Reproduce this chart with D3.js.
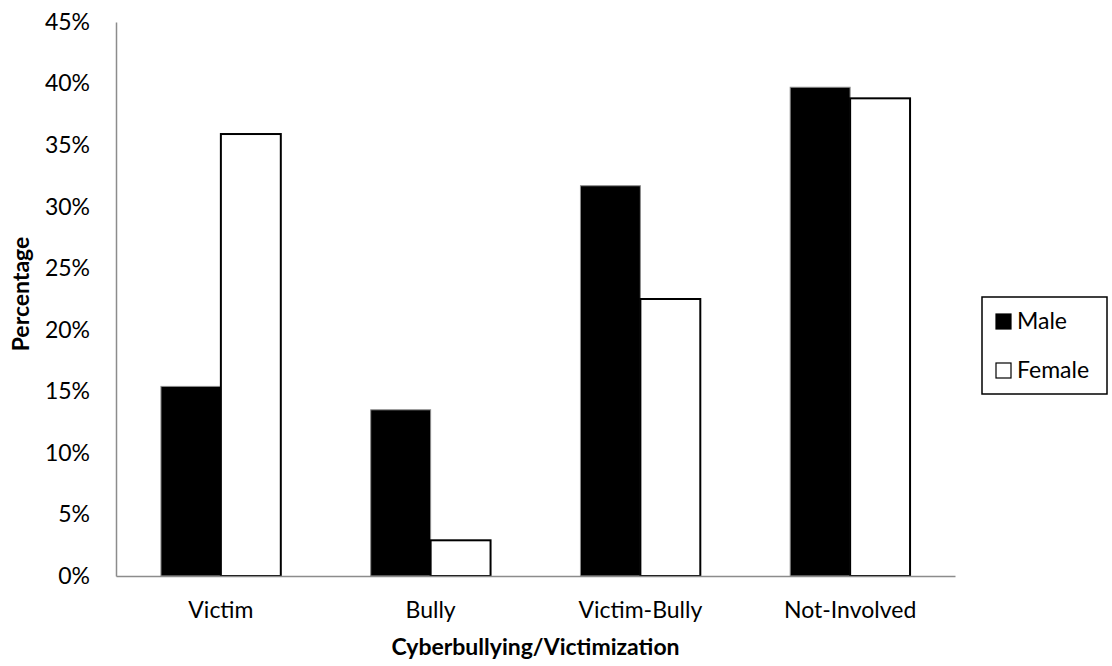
<!DOCTYPE html>
<html>
<head>
<meta charset="utf-8">
<script src="https://cdn.jsdelivr.net/npm/d3@7"></script>
<style>
  html, body { margin: 0; padding: 0; background: #fff; }
  svg { display: block; font-family: Lato, "Open Sans", sans-serif; }
</style>
</head>
<body>
<svg id="chart" width="1112" height="666"></svg>
<script>
// Cyberbullying involvement by gender (share of respondents)
const categories = ["Victim", "Bully", "Victim-Bully", "Not-Involved"];
const seriesNames = ["Male", "Female"];
const maleValues = [15.4, 13.5, 31.7, 39.7];
const femaleValues = [35.9, 2.9, 22.5, 38.8];
const yTicks = [0, 5, 10, 15, 20, 25, 30, 35, 40, 45];

const svg = d3.select("#chart");
const plot = { left: 116, right: 955, top: 22, bottom: 576 };
const fontSize = 23;

const x = d3.scaleBand().domain(categories).range([plot.left, plot.right]).paddingInner(0).paddingOuter(0);
const inner = d3.scaleBand().domain(seriesNames).range([0, x.bandwidth()]).paddingInner(0).paddingOuter(0.75);
const y = d3.scaleLinear().domain([0, 45]).range([plot.bottom, plot.top]);

const rows = categories.map((c, i) => ({ cat: c, Male: maleValues[i], Female: femaleValues[i] }));

// Y axis: labels only, gray spine
const yAxis = d3.axisLeft(y).tickValues(yTicks).tickSize(0).tickPadding(26).tickFormat(d => d + "%");
const gy = svg.append("g").attr("transform", `translate(${plot.left},0)`).call(yAxis);
gy.select(".domain").attr("stroke", "#8c8c8c").attr("stroke-width", 1.5);
gy.selectAll("text").attr("font-size", fontSize).attr("fill", "#000").attr("font-family", "Lato");

// Bars
const styles = {
  Male: { fill: "#000", stroke: "#8c8c8c", sw: 1 },
  Female: { fill: "#fff", stroke: "#000", sw: 2 }
};
const groups = svg.append("g").selectAll("g").data(rows).join("g")
  .attr("transform", d => `translate(${x(d.cat)},0)`);
groups.selectAll("rect").data(d => seriesNames.map(s => ({ s, v: d[s] }))).join("rect")
  .attr("x", d => inner(d.s))
  .attr("width", inner.bandwidth())
  .attr("y", d => y(d.v))
  .attr("height", d => y(0) - y(d.v))
  .attr("fill", d => styles[d.s].fill)
  .attr("stroke", d => styles[d.s].stroke)
  .attr("stroke-width", d => styles[d.s].sw);

// X axis: category labels
const xAxis = d3.axisBottom(x).tickSize(0).tickPadding(26);
const gx = svg.append("g").attr("transform", `translate(0,${plot.bottom})`).call(xAxis);
gx.select(".domain").attr("stroke", "#8c8c8c").attr("stroke-width", 1.5);
gx.selectAll("text").attr("font-size", fontSize).attr("fill", "#000").attr("font-family", "Lato");

// Axis titles
svg.append("text")
  .attr("x", (plot.left + plot.right) / 2).attr("y", 655)
  .attr("text-anchor", "middle").attr("font-size", fontSize).attr("font-weight", "bold")
  .text("Cyberbullying/Victimization");
svg.append("text")
  .attr("transform", `translate(29,${(plot.top + plot.bottom) / 2 - 5}) rotate(-90)`)
  .attr("text-anchor", "middle").attr("font-size", fontSize).attr("font-weight", "bold")
  .text("Percentage");

// Legend
const lg = svg.append("g").attr("transform", "translate(982,297)");
lg.append("rect").attr("width", 125).attr("height", 97).attr("fill", "#fff").attr("stroke", "#000").attr("stroke-width", 1.5);
seriesNames.forEach((s, i) => {
  const base = 32 + i * 49;
  lg.append("rect").attr("x", 14).attr("y", base - 15).attr("width", 15).attr("height", 15)
    .attr("fill", styles[s].fill).attr("stroke", "#000").attr("stroke-width", 1.2);
  lg.append("text").attr("x", 35).attr("y", base)
    .attr("font-size", fontSize).text(s);
});
</script>
</body>
</html>
